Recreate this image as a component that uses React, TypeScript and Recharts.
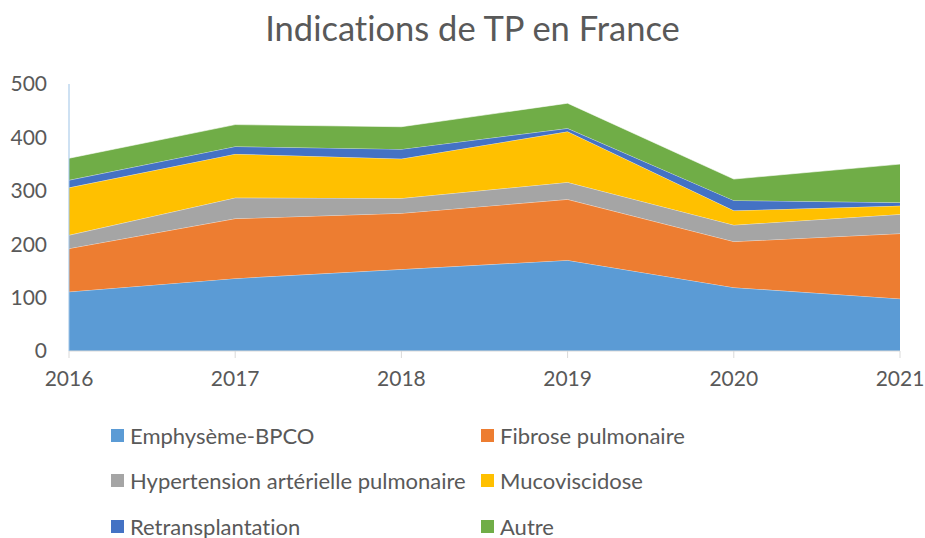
import { AreaChart, Area, XAxis, YAxis } from 'recharts';

const years = ['2016', '2017', '2018', '2019', '2020', '2021'];
const emphyseme = [111, 136, 153, 170, 119, 98];
const fibrose = [81, 112, 105, 114, 86, 122];
const htap = [25, 39, 28, 32, 31, 36];
const mucoviscidose = [89, 82, 74, 95, 27, 16];
const retransplantation = [14, 14, 18, 6, 19, 6];
const autre = [41, 41, 42, 47, 40, 72];
const yTicks = [0, 100, 200, 300, 400, 500];

const series = [
  { key: 'emphyseme', name: 'Emphysème-BPCO', values: emphyseme, color: '#5B9BD5' },
  { key: 'fibrose', name: 'Fibrose pulmonaire', values: fibrose, color: '#ED7D31' },
  { key: 'htap', name: 'Hypertension artérielle pulmonaire', values: htap, color: '#A5A5A5' },
  { key: 'muco', name: 'Mucoviscidose', values: mucoviscidose, color: '#FFC000' },
  { key: 'retrans', name: 'Retransplantation', values: retransplantation, color: '#4472C4' },
  { key: 'autre', name: 'Autre', values: autre, color: '#70AD47' },
];

const data = years.map((year, i) => {
  const row: Record<string, string | number> = { year };
  series.forEach((s) => {
    row[s.key] = s.values[i];
  });
  return row;
});

const font = 'Lato, "Open Sans", sans-serif';
const textColor = '#595959';

export default function App() {
  return (
    <div
      style={{
        position: 'absolute',
        left: 0,
        top: 0,
        width: 925,
        height: 538,
        background: '#fff',
        fontFamily: font,
        fontVariantLigatures: 'none',
      }}
    >
      <div
        style={{
          position: 'absolute',
          left: 0,
          width: 945,
          top: 6,
          textAlign: 'center',
          fontSize: 34.5,
          lineHeight: '44px',
          color: textColor,
        }}
      >
        Indications de TP en France
      </div>
      <AreaChart width={925} height={538} data={data} margin={{ top: 84, right: 25, bottom: 157, left: 0 }}>
        <XAxis
          dataKey="year"
          tick={{ fill: textColor, fontSize: 21, fontFamily: font }}
          axisLine={{ stroke: '#D9D9D9' }}
          tickLine={{ stroke: '#D9D9D9' }}
          tickSize={7}
          tickMargin={13}
          height={30}
          interval={0}
        />
        <YAxis
          domain={[0, 500]}
          ticks={yTicks}
          tick={{ fill: textColor, fontSize: 21, fontFamily: font }}
          axisLine={{ stroke: '#9DC3E6' }}
          tickLine={false}
          tickSize={0}
          tickMargin={22}
          width={69}
        />
        {series.map((s) => (
          <Area
            key={s.key}
            type="linear"
            dataKey={s.key}
            name={s.name}
            stackId="1"
            fill={s.color}
            fillOpacity={1}
            stroke="#ffffff"
            strokeWidth={0.6}
            isAnimationActive={false}
          />
        ))}
      </AreaChart>
      {series.map((s, i) => {
        const col = i % 2;
        const row = Math.floor(i / 2);
        const left = col === 0 ? 111 : 481;
        const cy = [435, 480, 526][row];
        return (
          <div
            key={s.key}
            style={{
              position: 'absolute',
              left,
              top: cy - 13,
              height: 26,
              display: 'flex',
              alignItems: 'center',
              whiteSpace: 'nowrap',
              fontSize: 22,
              color: textColor,
            }}
          >
            <span style={{ display: 'inline-block', width: 13, height: 13, background: s.color, marginRight: 6 }} />
            {s.name}
          </div>
        );
      })}
    </div>
  );
}
